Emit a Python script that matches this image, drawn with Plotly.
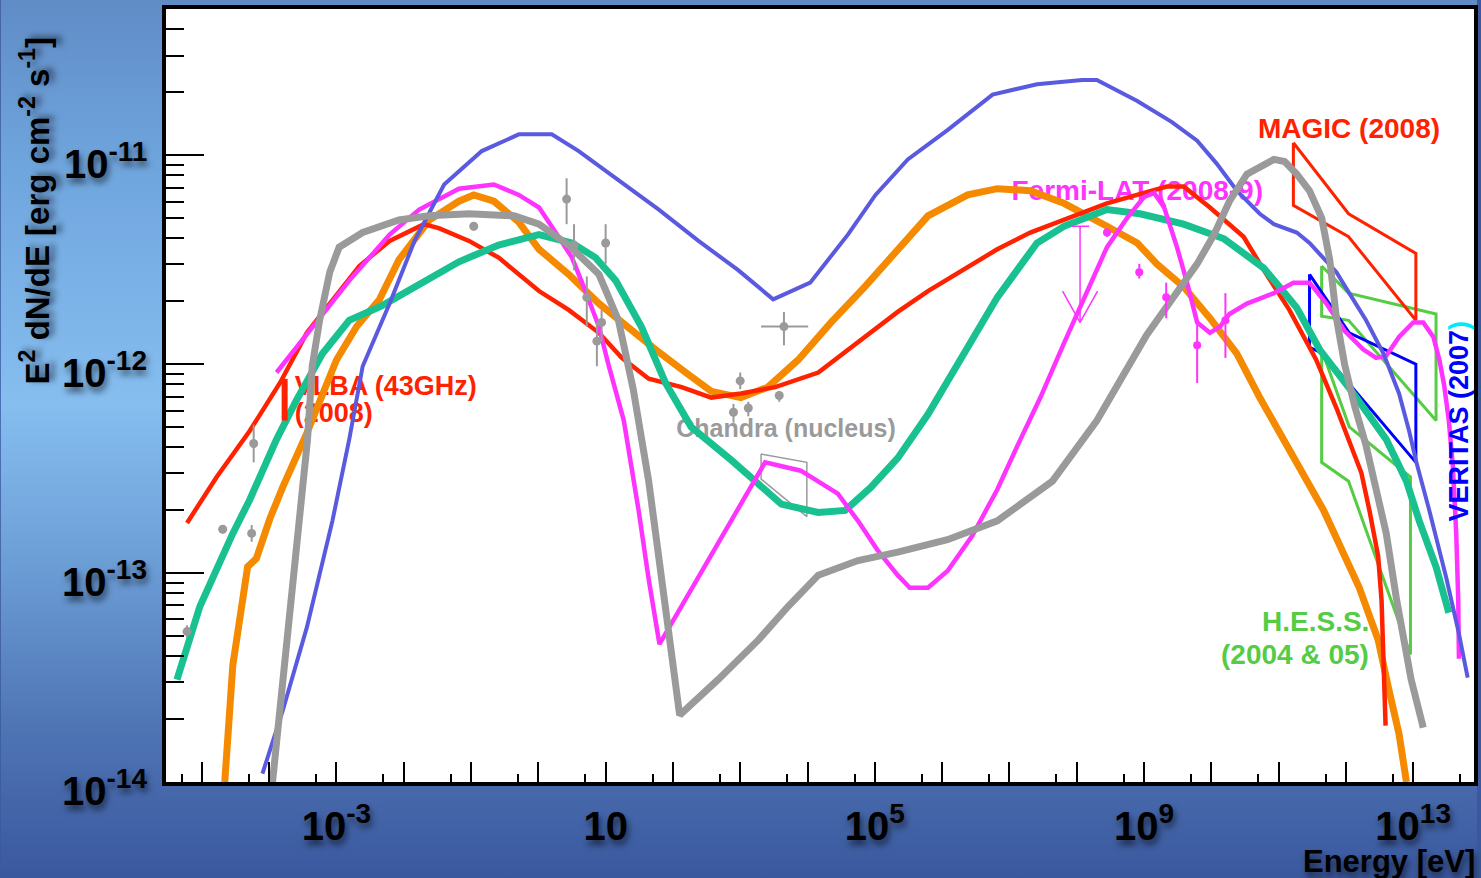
import base64
import numpy as np
import plotly.graph_objects as go

# ---------------- data (log10 E [eV], log10 E^2 dN/dE [erg cm^-2 s^-1]) ----------------
BLUE_LOGE = [-4.10, -3.80, -3.44, -3.06, -2.81, -2.61, -2.21, -1.84, -1.40, -0.84, -0.29, 0.20, 0.60, 1.19, 1.79,
             2.38, 2.97, 3.49, 4.04, 4.60, 5.01, 5.49, 6.08, 6.75, 7.41, 8.08, 8.30, 8.90, 9.41, 9.79, 10.08, 10.38,
             10.72, 10.93, 11.27, 11.46, 11.67, 11.86, 12.05, 12.30, 12.56, 12.79, 12.94, 13.04, 13.24, 13.49, 13.68, 13.81]
BLUE_LOGF = [-13.96, -13.66, -13.26, -12.75, -12.36, -12.01, -11.71, -11.41, -11.14, -10.98, -10.90, -10.90, -10.98,
             -11.12, -11.26, -11.41, -11.55, -11.69, -11.61, -11.38, -11.19, -11.02, -10.88, -10.71, -10.66, -10.64,
             -10.64, -10.74, -10.84, -10.93, -11.04, -11.17, -11.28, -11.33, -11.37, -11.42, -11.49, -11.56, -11.66,
             -11.79, -11.95, -12.14, -12.32, -12.46, -12.70, -13.02, -13.29, -13.50]

GRAY_LOGE = [-3.95, -3.74, -3.55, -3.43, -3.36, -3.25, -3.10, -2.96, -2.61, -2.07, -1.62, -1.03, -0.36, 0.01, 0.45,
             0.90, 1.19, 1.41, 1.64, 1.83, 1.96, 2.10, 2.67, 3.27, 3.71, 4.16, 4.75, 5.34, 6.08, 6.82, 7.64, 8.30,
             9.04, 9.79, 10.04, 10.27, 10.53, 10.93, 11.09, 11.27, 11.46, 11.64, 11.76, 11.86, 11.98, 12.13, 12.30,
             12.60, 12.75, 12.90, 12.97, 13.15]
GRAY_LOGF = [-14.00, -13.32, -12.68, -12.36, -12.01, -11.79, -11.56, -11.44, -11.37, -11.31, -11.29, -11.28, -11.29,
             -11.33, -11.43, -11.57, -11.79, -12.12, -12.56, -13.03, -13.37, -13.68, -13.51, -13.32, -13.16, -13.01,
             -12.94, -12.90, -12.84, -12.75, -12.56, -12.27, -11.86, -11.52, -11.38, -11.22, -11.09, -11.02, -11.03,
             -11.09, -11.17, -11.30, -11.50, -11.78, -12.00, -12.20, -12.39, -12.81, -13.12, -13.37, -13.51, -13.74]

RED_LOGE = [-5.22, -4.78, -4.29, -3.84, -3.44, -3.06, -2.66, -2.21, -1.70, -1.47, -1.03, -0.59, 0.01, 0.45, 0.90,
            1.24, 1.64, 2.13, 2.57, 3.01, 3.52, 4.16, 5.34, 5.79, 6.82, 7.31, 7.81, 8.45, 9.00, 9.34, 9.59, 9.98,
            10.48, 10.78, 11.16, 11.56, 11.86, 12.01, 12.23, 12.35, 12.48, 12.53, 12.57, 12.59]
RED_LOGF = [-12.76, -12.54, -12.32, -12.09, -11.85, -11.69, -11.53, -11.41, -11.33, -11.35, -11.41, -11.49, -11.65,
            -11.74, -11.85, -11.97, -12.07, -12.11, -12.16, -12.14, -12.11, -12.04, -11.75, -11.65, -11.45, -11.37,
            -11.31, -11.23, -11.18, -11.15, -11.15, -11.25, -11.39, -11.55, -11.74, -11.98, -12.21, -12.33, -12.52,
            -12.70, -12.92, -13.13, -13.45, -13.73]

ORANGE_LOGE = [-4.66, -4.54, -4.32, -4.19, -3.99, -3.80, -3.44, -3.00, -2.70, -2.36, -2.07, -1.62, -1.18, -0.96,
               -0.66, -0.29, 0.01, 0.45, 0.90, 1.30, 1.74, 2.19, 2.57, 3.01, 3.41, 3.86, 4.35, 4.85, 5.34, 5.79, 6.38,
               6.82, 7.31, 7.81, 8.45, 8.90, 9.19, 9.59, 9.98, 10.38, 10.72, 11.16, 11.67, 12.20, 12.48, 12.64, 12.79, 12.90]
ORANGE_LOGF = [-14.00, -13.44, -12.97, -12.93, -12.74, -12.59, -12.33, -11.98, -11.82, -11.69, -11.50, -11.31, -11.22,
               -11.19, -11.22, -11.32, -11.45, -11.57, -11.71, -11.82, -11.93, -12.04, -12.13, -12.16, -12.11, -11.98,
               -11.80, -11.63, -11.45, -11.29, -11.19, -11.16, -11.17, -11.23, -11.34, -11.42, -11.52, -11.63, -11.78,
               -11.95, -12.16, -12.41, -12.70, -13.07, -13.32, -13.56, -13.77, -14.00]

TEAL_LOGE = [-5.37, -5.03, -4.54, -4.29, -3.89, -3.59, -3.21, -2.81, -2.32, -1.77, -1.18, -0.59, 0.01, 0.50, 0.85,
             1.15, 1.34, 1.53, 1.89, 2.27, 2.87, 3.61, 4.16, 4.56, 4.94, 5.34, 5.79, 6.30, 6.82, 7.41, 7.81, 8.45,
             8.94, 9.59, 10.19, 10.78, 11.27, 11.61, 12.11, 12.60, 12.90, 13.09, 13.34, 13.53]
TEAL_LOGF = [-13.51, -13.16, -12.81, -12.65, -12.36, -12.17, -11.95, -11.79, -11.72, -11.62, -11.51, -11.43, -11.38,
             -11.42, -11.49, -11.60, -11.71, -11.82, -12.09, -12.30, -12.46, -12.67, -12.71, -12.70, -12.59, -12.45,
             -12.24, -11.96, -11.68, -11.42, -11.34, -11.26, -11.28, -11.33, -11.40, -11.54, -11.73, -11.93, -12.14,
             -12.36, -12.56, -12.75, -12.97, -13.19]

MAGENTA_LOGE = [-3.89, -3.40, -2.81, -2.21, -1.77, -1.18, -0.66, -0.29, 0.01, 0.30, 0.50, 0.70, 0.90, 1.04, 1.27,
                1.49, 1.64, 1.80, 2.87, 3.37, 3.90, 4.45, 4.75, 5.04, 5.34, 5.52, 5.79, 6.08, 6.45, 6.82, 7.12, 7.46,
                7.81, 8.11, 8.45, 8.75, 9.00, 9.15, 9.30, 9.49, 9.64, 9.79, 9.98, 10.13, 10.27, 10.53, 10.93, 11.22,
                11.46, 11.71, 11.98, 12.26, 12.45, 12.60, 12.79, 13.00, 13.15, 13.30, 13.39, 13.46, 13.53, 13.59,
                13.64, 13.67, 13.68]
MAGENTA_LOGF = [-12.04, -11.84, -11.60, -11.38, -11.26, -11.16, -11.14, -11.19, -11.25, -11.39, -11.49, -11.65,
                -11.82, -12.00, -12.27, -12.70, -13.03, -13.34, -12.75, -12.47, -12.51, -12.62, -12.75, -12.89, -13.01,
                -13.07, -13.07, -12.99, -12.82, -12.60, -12.39, -12.16, -11.90, -11.68, -11.44, -11.30, -11.20, -11.18,
                -11.25, -11.44, -11.61, -11.80, -11.85, -11.82, -11.76, -11.71, -11.66, -11.61, -11.61, -11.71, -11.84,
                -11.93, -11.97, -11.96, -11.87, -11.80, -11.80, -11.87, -11.98, -12.10, -12.27, -12.49, -12.81, -13.13,
                -13.41]

# archival (gray) data points
PTS_LOGE = [-5.22, -4.69, -4.26, -4.23, -0.96, 0.42, 0.53, 0.72, 0.87, 0.94, 1.00, 2.90, 3.00, 3.12, 3.58]
PTS_LOGF = [-13.28, -12.79, -12.81, -12.38, -11.34, -11.21, -11.43, -11.68, -11.89, -11.80, -11.42, -12.23, -12.08, -12.21, -12.15]
PTS_LOGF_HI = [-13.25, -12.77, -12.77, -12.29, -11.32, -11.11, -11.33, -11.58, -11.80, -11.74, -11.33, -12.19, -12.04, -12.18, -12.13]
PTS_LOGF_LO = [-13.31, -12.81, -12.85, -12.47, -11.36, -11.33, -11.55, -11.82, -12.01, -11.89, -11.52, -12.28, -12.12, -12.25, -12.18]

# point with energy error bar
CROSS_LOGE, CROSS_LOGE_LO, CROSS_LOGE_HI = 3.65, 3.31, 4.01
CROSS_LOGF, CROSS_LOGF_LO, CROSS_LOGF_HI = -11.82, -11.91, -11.75

# Fermi-LAT points
FERMI_LOGE = [8.45, 8.93, 9.33, 9.79, 10.21]
FERMI_LOGF = [-11.37, -11.56, -11.68, -11.91, -11.79]
FERMI_LOGF_HI = [-11.35, -11.52, -11.61, -11.81, -11.66]
FERMI_LOGF_LO = [-11.39, -11.59, -11.78, -12.09, -11.97]
FERMI_UL_LOGE, FERMI_UL_LOGF = 8.05, -11.34

# VLBA (43 GHz) bar
VLBA_LOGE, VLBA_LOGF_LO, VLBA_LOGF_HI = -3.77, -12.27, -12.07

# butterflies
MAGIC_LOGE = [11.22, 12.04, 13.04, 13.04, 12.04, 11.22, 11.22]
MAGIC_LOGF = [-10.94, -11.28, -11.47, -11.79, -11.39, -11.24, -10.94]
VERITAS_LOGE = [11.46, 12.05, 13.04, 13.04, 11.67, 11.46, 11.46]
VERITAS_LOGF = [-11.57, -11.85, -12.00, -12.47, -11.95, -11.92, -11.57]
HESS1_LOGE = [11.64, 12.04, 13.34, 13.34, 12.04, 11.64, 11.64]
HESS1_LOGF = [-11.53, -11.66, -11.76, -12.27, -11.79, -11.77, -11.53]
HESS2_LOGE = [11.64, 12.05, 12.96, 12.96, 12.04, 11.64, 11.64]
HESS2_LOGF = [-11.93, -12.30, -12.54, -13.39, -12.56, -12.47, -11.93]
CHANDRA_LOGE = [3.31, 3.99, 3.99, 3.31, 3.31]
CHANDRA_LOGF = [-12.43, -12.47, -12.73, -12.55, -12.43]

X_TICK_EXP = list(range(-5, 14))
X_LABEL_EXP = [-3, 1, 5, 9, 13]
Y_TICK_EXP = [-14, -13, -12, -11]

# ---------------- style ----------------
FONT = "Liberation Sans, Arial, Helvetica, sans-serif"
SHADOW = "2px 5px 6px rgba(0,0,0,0.55)"
C_RED, C_ORANGE, C_TEAL = "#ff2200", "#f58a00", "#19c190"
C_MAG, C_BV, C_GRAY = "#ff33ff", "#5a5ae0", "#9a9a9a"
C_BLUE, C_GREEN = "#0000ff", "#55cc44"

W, H = 1481, 878
ML, MR, MT, MB = 166, 3, 9, 96
PW, PH = W - ML - MR, H - MT - MB


def p10(a):
    return 10.0 ** np.asarray(a, dtype=float)


fig = go.Figure()


def text_trace(loge, logf, txt, color, size, pos):
    fig.add_trace(go.Scatter(x=p10([loge]), y=p10([logf]), mode="text", text=[txt], textposition=pos,
                             textfont=dict(family=FONT, size=size, color=color, weight="bold"),
                             hoverinfo="skip", showlegend=False))


# labels first so the curves are drawn over them (as in the original)
text_trace(8.90, -11.18, "Fermi-LAT (2008-9)", C_MAG, 28, "middle center")
text_trace(-3.62, -12.115, "VLBA (43GHz)", C_RED, 27, "middle right")
text_trace(-3.62, -12.245, "(2008)", C_RED, 27, "middle right")
text_trace(3.68, -12.32, "Chandra (nucleus)", C_GRAY, 25, "middle center")


def poly(loge, logf, color, width):
    fig.add_trace(go.Scatter(x=p10(loge), y=p10(logf), mode="lines", line=dict(color=color, width=width),
                             hoverinfo="skip", showlegend=False))


poly(HESS1_LOGE, HESS1_LOGF, C_GREEN, 3)
poly(HESS2_LOGE, HESS2_LOGF, C_GREEN, 3)
poly(VERITAS_LOGE, VERITAS_LOGF, C_BLUE, 3)
poly(MAGIC_LOGE, MAGIC_LOGF, C_RED, 3)
poly(CHANDRA_LOGE, CHANDRA_LOGF, C_GRAY, 1.5)

poly(ORANGE_LOGE, ORANGE_LOGF, C_ORANGE, 7)
poly(RED_LOGE, RED_LOGF, C_RED, 4.5)
poly(TEAL_LOGE, TEAL_LOGF, C_TEAL, 7)
poly(MAGENTA_LOGE, MAGENTA_LOGF, C_MAG, 4.5)
poly(BLUE_LOGE, BLUE_LOGF, C_BV, 4)
poly(GRAY_LOGE, GRAY_LOGF, C_GRAY, 7)

# VLBA bar
fig.add_trace(go.Scatter(x=p10([VLBA_LOGE, VLBA_LOGE]), y=p10([VLBA_LOGF_LO, VLBA_LOGF_HI]), mode="lines",
                         line=dict(color=C_RED, width=6), showlegend=False, hoverinfo="skip"))

# gray data points
f = p10(PTS_LOGF)
fig.add_trace(go.Scatter(x=p10(PTS_LOGE), y=f, mode="markers", marker=dict(color=C_GRAY, size=9),
                         error_y=dict(type="data", symmetric=False, array=p10(PTS_LOGF_HI) - f,
                                      arrayminus=f - p10(PTS_LOGF_LO), color=C_GRAY, thickness=2, width=0),
                         showlegend=False, hoverinfo="skip"))
cf, ce = 10.0 ** CROSS_LOGF, 10.0 ** CROSS_LOGE
fig.add_trace(go.Scatter(x=[ce], y=[cf], mode="markers", marker=dict(color=C_GRAY, size=9),
                         error_y=dict(type="data", symmetric=False, array=[10.0 ** CROSS_LOGF_HI - cf],
                                      arrayminus=[cf - 10.0 ** CROSS_LOGF_LO], color=C_GRAY, thickness=2, width=0),
                         error_x=dict(type="data", symmetric=False, array=[10.0 ** CROSS_LOGE_HI - ce],
                                      arrayminus=[ce - 10.0 ** CROSS_LOGE_LO], color=C_GRAY, thickness=2, width=0),
                         showlegend=False, hoverinfo="skip"))

# Fermi points
ff = p10(FERMI_LOGF)
fig.add_trace(go.Scatter(x=p10(FERMI_LOGE), y=ff, mode="markers", marker=dict(color=C_MAG, size=8),
                         error_y=dict(type="data", symmetric=False, array=p10(FERMI_LOGF_HI) - ff,
                                      arrayminus=ff - p10(FERMI_LOGF_LO), color=C_MAG, thickness=2, width=0),
                         showlegend=False, hoverinfo="skip"))

# Fermi upper limit arrow (sizes in decades are style constants)
UL_BAR, UL_LEN, UL_HEAD_W, UL_HEAD_L = 0.135, 0.46, 0.26, 0.15
ux, uy, tip = FERMI_UL_LOGE, FERMI_UL_LOGF, FERMI_UL_LOGF - UL_LEN
fig.add_trace(go.Scatter(
    x=p10([ux - UL_BAR, ux + UL_BAR, None, ux, ux, None, ux - UL_HEAD_W, ux, ux + UL_HEAD_W]),
    y=p10([uy, uy, None, uy, tip, None, tip + UL_HEAD_L, tip, tip + UL_HEAD_L]),
    mode="lines", line=dict(color=C_MAG, width=1.5), connectgaps=False, showlegend=False, hoverinfo="skip"))

# ---------------- background ----------------
BG_STOPS = [(0.0, "#608cc6"), (0.2, "#70a6de"), (0.46, "#86bef0"), (0.64, "#6c9ed6"), (0.82, "#5076b6"), (1.0, "#3a589e")]
stops = "".join(f'<stop offset="{o}" stop-color="{c}"/>' for o, c in BG_STOPS)
svg = (f'<svg xmlns="http://www.w3.org/2000/svg" width="{W}" height="{H}" viewBox="0 0 {W} {H}" '
       f'preserveAspectRatio="none"><defs><linearGradient id="g" x1="0" y1="0" x2="0" y2="1">{stops}'
       f'</linearGradient></defs><rect width="{W}" height="{H}" fill="url(#g)"/></svg>')
src = "data:image/svg+xml;base64," + base64.b64encode(svg.encode()).decode()

x_ticktext = [("10" if n == 1 else f"10<sup>{n}</sup>") if n in X_LABEL_EXP else "" for n in X_TICK_EXP]
tickfont = dict(family=FONT, size=40, color="black", weight="bold", shadow=SHADOW)

fig.update_xaxes(type="log", range=[-5.533, 13.904], showline=True, linewidth=4, linecolor="black", mirror=True,
                 showgrid=False, zeroline=False, ticks="inside", ticklen=20, tickwidth=1.5, tickcolor="black",
                 tickmode="array", tickvals=[10.0 ** n for n in X_TICK_EXP], ticktext=x_ticktext,
                 tickfont=tickfont, ticklabelstandoff=6,
                 minor=dict(ticks="inside", ticklen=8, tickwidth=1.5, tickcolor="black", tickmode="array",
                            tickvals=[5 * 10.0 ** n for n in range(-6, 14)], showgrid=False))
fig.update_yaxes(type="log", range=[-14.0, -10.30], showline=True, linewidth=4, linecolor="black", mirror=True,
                 showgrid=False, zeroline=False, ticks="inside", ticklen=38, tickwidth=2, tickcolor="black",
                 tickmode="array", tickvals=[10.0 ** n for n in Y_TICK_EXP], showticklabels=False,
                 minor=dict(ticks="inside", ticklen=18, tickwidth=2, tickcolor="black", tickmode="array",
                            tickvals=[k * 10.0 ** n for n in range(-14, -10) for k in range(2, 10)], showgrid=False))

annotations = [
    dict(text="E<sup>2</sup> dN/dE [erg cm<sup>-2</sup> s<sup>-1</sup>]", xref="paper", yref="paper",
         x=(35 - ML) / PW, y=1 - (211 - MT) / PH, xanchor="center", yanchor="middle", textangle=-90,
         showarrow=False, font=dict(family=FONT, size=33, color="black", weight="bold", shadow=SHADOW)),
    dict(text="Energy [eV]", xref="paper", yref="paper", x=1 + MR / PW, y=-(861 - MT - PH) / PH,
         xanchor="right", yanchor="middle", showarrow=False,
         font=dict(family=FONT, size=31, color="black", weight="bold", shadow=SHADOW)),
    dict(text="MAGIC (2008)", x=12.04, y=-10.87, xref="x", yref="y", showarrow=False,
         font=dict(family=FONT, size=28, color=C_RED, weight="bold")),
    dict(text="H.E.S.S.", x=12.38, y=-13.23, xref="x", yref="y", xanchor="right", showarrow=False,
         font=dict(family=FONT, size=28, color=C_GREEN, weight="bold")),
    dict(text="(2004 & 05)", x=12.38, y=-13.39, xref="x", yref="y", xanchor="right", showarrow=False,
         font=dict(family=FONT, size=28, color=C_GREEN, weight="bold")),
    dict(text="VERITAS (2007<span style='color:#00eaff'>)</span>", x=13.68, y=-12.27, xref="x", yref="y",
         textangle=-90, showarrow=False, font=dict(family=FONT, size=27, color=C_BLUE, weight="bold")),
]
# y tick labels
for n in Y_TICK_EXP:
    annotations.append(dict(text=f"10<sup>{n}</sup>", xref="paper", yref="y", x=(149 - ML) / PW, y=n,
                            xanchor="right", yanchor="middle", yshift=-6, showarrow=False, font=tickfont))

fig.update_layout(
    width=W, height=H, margin=dict(l=ML, r=MR, t=MT, b=MB, pad=0),
    paper_bgcolor="#3a589e", plot_bgcolor="white", showlegend=False,
    images=[dict(source=src, xref="paper", yref="paper", x=-ML / PW, y=1 + MT / PH, sizex=W / PW, sizey=H / PH,
                 xanchor="left", yanchor="top", sizing="stretch", layer="below")],
    shapes=[dict(type="rect", xref="paper", yref="paper", x0=0, x1=1, y0=0, y1=1, fillcolor="white",
                 line=dict(width=0), layer="below")],
    annotations=annotations,
)

fig.write_html("out.html")
